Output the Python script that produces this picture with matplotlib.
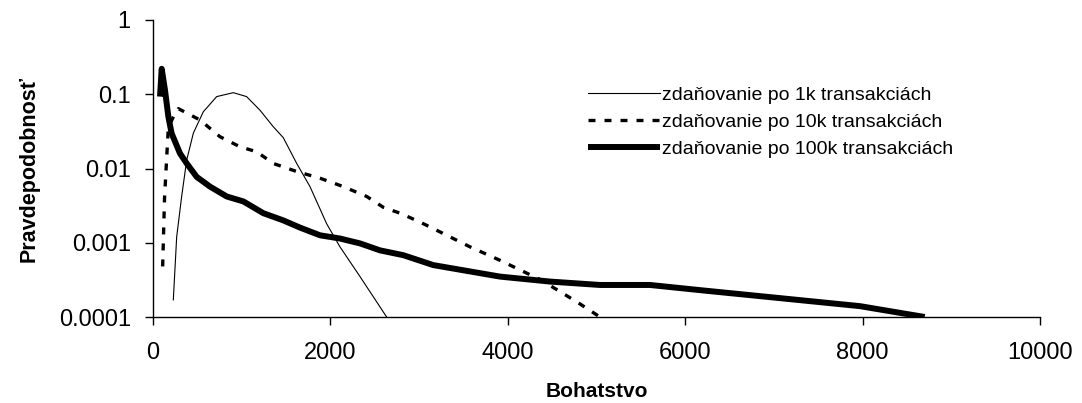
import numpy as np
import matplotlib.pyplot as plt
from matplotlib.ticker import FixedLocator, FixedFormatter, NullLocator

plt.rcParams['font.family'] = ['Liberation Sans', 'DejaVu Sans']

# zdanovanie po 1k transakciach
w_1k = [229, 267, 323, 380, 455, 567, 718, 905, 1055, 1206, 1356, 1469,
        1620, 1770, 1958, 2108, 2334, 2634]
p_1k = [1.7e-4, 1.2e-3, 4.2e-3, 0.013, 0.030, 0.058, 0.093, 0.105, 0.093,
        0.061, 0.0365, 0.026, 0.0117, 0.0057, 0.0018, 8.8e-4, 3.5e-4, 1.0e-4]

# zdanovanie po 10k transakciach
w_10k = [109, 130, 173, 248, 286, 530, 755, 981, 1169, 1356, 1620, 1883,
         2146, 2409, 2597, 2785, 3010, 3273, 3574, 3912, 4213, 4363, 4589,
         4814, 5039]
p_10k = [4.8e-4, 4.0e-3, 0.036, 0.055, 0.064, 0.045, 0.0268, 0.0196, 0.0168,
         0.0117, 0.0091, 0.0074, 0.0057, 0.0042, 0.0030, 0.0025, 0.0019,
         0.00133, 8.8e-4, 5.8e-4, 3.9e-4, 3.2e-4, 2.2e-4, 1.5e-4, 1.0e-4]

# zdanovanie po 100k transakciach
w_100k = [79, 98, 135, 173, 210, 304, 380, 493, 643, 831, 1019, 1244, 1469,
          1657, 1883, 2108, 2334, 2559, 2822, 3160, 3912, 4476, 5039, 5603,
          6167, 6731, 7971, 8700]
p_100k = [0.093, 0.22, 0.114, 0.050, 0.0297, 0.016, 0.0117, 0.0077, 0.0057,
          0.0042, 0.0036, 0.0025, 0.0020, 0.0016, 0.00126, 0.00114, 9.8e-4,
          7.9e-4, 6.8e-4, 5.0e-4, 3.5e-4, 3.0e-4, 2.7e-4, 2.7e-4, 2.3e-4,
          1.97e-4, 1.4e-4, 1.0e-4]

labels = ['zdaňovanie po 1k transakciách',
          'zdaňovanie po 10k transakciách',
          'zdaňovanie po 100k transakciách']
y_ticks = [1e-4, 1e-3, 1e-2, 1e-1, 1]
y_ticklabels = ['0.0001', '0.001', '0.01', '0.1', '1']
x_ticks = [0, 2000, 4000, 6000, 8000, 10000]

fig = plt.figure(figsize=(10.82, 4.03), dpi=100)
ax = fig.add_axes([153 / 1082, 1 - 317 / 403, (1040 - 153) / 1082, (317 - 20) / 403])

ax.plot(w_1k, p_1k, color='black', lw=0.8, label=labels[0])
dash, = ax.plot(w_10k, p_10k, color='black', lw=2.4, label=labels[1])
dash.set_dashes((2.1, 2.7))
ax.plot(w_100k, p_100k, color='black', lw=4.3, solid_capstyle='butt',
        solid_joinstyle='round', label=labels[2])

ax.set_yscale('log')
ax.set_xlim(0, 10000)
ax.set_ylim(1e-4, 1)
ax.yaxis.set_major_locator(FixedLocator(y_ticks))
ax.yaxis.set_major_formatter(FixedFormatter(y_ticklabels))
ax.yaxis.set_minor_locator(NullLocator())
ax.set_xticks(x_ticks)
ax.set_xticklabels([str(v) for v in x_ticks])

for side in ('top', 'right'):
    ax.spines[side].set_visible(False)
for side in ('left', 'bottom'):
    ax.spines[side].set_linewidth(1.0)
ax.tick_params(axis='y', direction='out', length=6, width=1.0, pad=10, labelsize=17)
ax.tick_params(axis='x', direction='out', length=6, width=1.0, pad=12, labelsize=17)

ax.set_xlabel('Bohatstvo', fontsize=15, fontweight='bold', labelpad=13)
ax.set_ylabel('Pravdepodobnosť', fontsize=15.5, fontweight='bold', labelpad=14)

ax.legend(loc='upper left', bbox_to_anchor=(588 / 1082, 1 - 86 / 403),
          bbox_transform=fig.transFigure, frameon=False, fontsize=14,
          handlelength=3.7, handletextpad=0.1, labelspacing=0.5, borderpad=0,
          borderaxespad=0)

fig.savefig('out.png', dpi=100)
